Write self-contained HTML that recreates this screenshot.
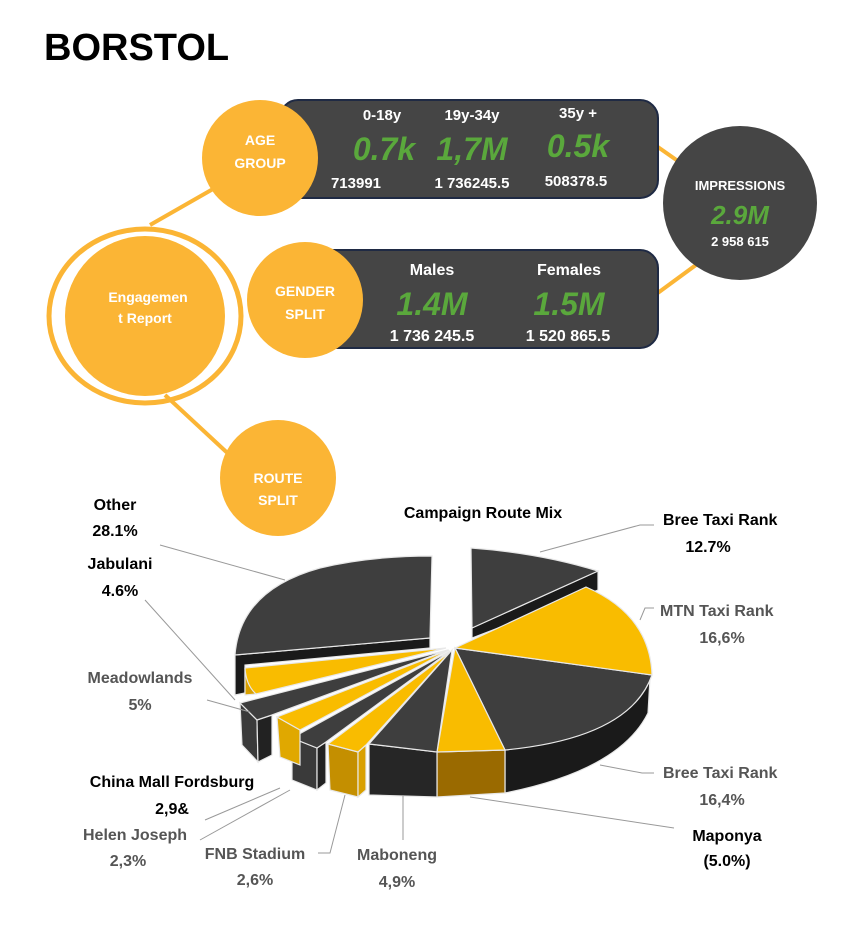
<!DOCTYPE html>
<html><head><style>
body{margin:0;background:#fff;}
svg{display:block;font-family:"Liberation Sans",sans-serif;font-weight:bold;}
</style></head><body>
<svg width="866" height="944" viewBox="0 0 866 944">
<text x="44" y="60" font-size="38" fill="#000">BORSTOL</text>
<!-- connectors -->
<g stroke="#fbb535" stroke-width="4" fill="none">
<line x1="150" y1="225" x2="220" y2="185"/>
<line x1="165" y1="395" x2="235" y2="460"/>
<line x1="655" y1="145" x2="705" y2="180"/>
<line x1="655" y1="295" x2="700" y2="262"/>
</g>
<!-- boxes -->
<rect x="280" y="100" width="378" height="98" rx="18" fill="#454545" stroke="#1f2a44" stroke-width="2"/>
<rect x="300" y="250" width="358" height="98" rx="18" fill="#454545" stroke="#1f2a44" stroke-width="2"/>
<circle cx="260" cy="158" r="58" fill="#fbb535"/>
<circle cx="305" cy="300" r="58" fill="#fbb535"/>
<circle cx="740" cy="203" r="77" fill="#454545"/>
<ellipse cx="145" cy="316" rx="96" ry="87" fill="none" stroke="#fbb535" stroke-width="5"/>
<circle cx="145" cy="316" r="80" fill="#fbb535"/>
<circle cx="278" cy="478" r="58" fill="#fbb535"/>
<g fill="#fff" font-size="14" text-anchor="middle">
<text x="260" y="145">AGE</text><text x="260" y="168">GROUP</text>
<text x="305" y="296">GENDER</text><text x="305" y="319">SPLIT</text>
<text x="148" y="302">Engagemen</text><text x="145" y="323">t Report</text>
<text x="278" y="483">ROUTE</text><text x="278" y="505">SPLIT</text>
<text x="740" y="190" font-size="13">IMPRESSIONS</text>
<text x="740" y="246" font-size="13">2 958 615</text>
<text x="382" y="120" font-size="15">0-18y</text>
<text x="472" y="120" font-size="15">19y-34y</text>
<text x="578" y="118" font-size="15">35y +</text>
<text x="356" y="188" font-size="15">713991</text>
<text x="472" y="188" font-size="15">1 736245.5</text>
<text x="576" y="186" font-size="15">508378.5</text>
<text x="432" y="275" font-size="16">Males</text>
<text x="569" y="275" font-size="16">Females</text>
<text x="432" y="341" font-size="16">1 736 245.5</text>
<text x="568" y="341" font-size="16">1 520 865.5</text>
</g>
<g fill="#5aa83c" font-size="32" font-style="italic" text-anchor="middle">
<text x="384" y="160">0.7k</text>
<text x="472" y="160">1,7M</text>
<text x="578" y="157">0.5k</text>
<text x="740" y="224" font-size="26">2.9M</text>
<text x="432" y="315">1.4M</text>
<text x="569" y="315">1.5M</text>
</g>
<!-- pie -->
<g stroke="#e8e8e8" stroke-width="1.2">
<!-- Other -->
<path d="M235,655 L235,695 L245,693 L245,665 L430,648 L430,638 Z" fill="#1a1a1a"/>
<path d="M235,655 Q240,590 320,568 Q370,556 432,556 L430,638 Z" fill="#3e3e3e"/>
<!-- Bree 12.7 -->
<path d="M472,628 L598,571 L598,590 L472,638 Z" fill="#1a1a1a"/>
<path d="M471,548 Q540,553 598,571 L472,628 Z" fill="#3e3e3e"/>
<!-- big Bree 16.4 side -->
<path d="M650,678 L648,713 Q620,770 505,793 L505,750 Q620,735 650,678 Z" fill="#1a1a1a"/>
<path d="M455,648 L652,675 Q630,738 505,750 Z" fill="#3e3e3e"/>
<!-- MTN -->
<path d="M455,648 L586,587 Q650,615 652,675 Z" fill="#f9bc00"/>
<!-- Maponya -->
<path d="M437,752 L505,750 L505,793 L437,797 Z" fill="#9a6a00"/>
<path d="M455,648 L505,750 L437,752 Z" fill="#f9bc00"/>
<!-- Maboneng -->
<path d="M369,744 L437,752 L437,797 L369,795 Z" fill="#262626"/>
<path d="M452,650 L437,752 L369,744 Z" fill="#3e3e3e"/>
<!-- FNB -->
<path d="M328,744 L358,752 L358,797 L330,790 Z" fill="#c48f00"/>
<path d="M358,752 L366,745 L366,790 L358,797 Z" fill="#d9a000"/>
<path d="M450,652 L328,744 L358,752 L366,745 Z" fill="#f9bc00"/>
<!-- China Mall -->
<path d="M292,738 L317,748 L317,790 L292,780 Z" fill="#3a3a3a"/>
<path d="M317,748 L326,742 L326,783 L317,790 Z" fill="#222"/>
<path d="M450,651 L292,738 L317,748 L326,742 Z" fill="#3e3e3e"/>
<!-- Helen -->
<path d="M277,717 L300,730 L300,765 L280,757 Z" fill="#e0a800"/>
<path d="M449,650 L277,717 L300,730 Z" fill="#f9bc00"/>
<!-- Meadowlands -->
<path d="M240,703 L257,720 L258,762 L242,745 Z" fill="#3a3a3a"/>
<path d="M257,720 L272,715 L272,755 L258,762 Z" fill="#222"/>
<path d="M448,650 L240,703 L257,720 L272,715 Z" fill="#3e3e3e"/>
<!-- Jabulani -->
<path d="M245,668 L245,695 L256,694 Z" fill="#d9a000"/>
<path d="M446,648 L245,668 Q246,685 256,694 Z" fill="#f9bc00"/>
</g>
<!-- leader lines -->
<g stroke="#999" stroke-width="1" fill="none">
<polyline points="654,525 640,525 540,552"/>
<polyline points="654,608 645,608 640,620"/>
<polyline points="654,773 642,773 600,765"/>
<polyline points="674,828 470,797"/>
<polyline points="403,840 403,795"/>
<polyline points="318,853 330,853 345,795"/>
<polyline points="200,840 290,790"/>
<polyline points="205,820 280,788"/>
<polyline points="160,545 285,580"/>
<polyline points="145,600 235,700"/>
<polyline points="207,700 250,712"/>
</g>
<text x="483" y="518" font-size="16" text-anchor="middle">Campaign Route Mix</text>
<g font-size="16">
<text x="663" y="525" fill="#000">Bree Taxi Rank</text>
<text x="708" y="552" fill="#000" text-anchor="middle">12.7%</text>
<text x="660" y="616" fill="#555">MTN Taxi Rank</text>
<text x="722" y="643" fill="#555" text-anchor="middle">16,6%</text>
<text x="663" y="778" fill="#555">Bree Taxi Rank</text>
<text x="722" y="805" fill="#555" text-anchor="middle">16,4%</text>
<text x="727" y="841" fill="#000" text-anchor="middle">Maponya</text>
<text x="727" y="866" fill="#000" text-anchor="middle">(5.0%)</text>
<text x="397" y="860" fill="#555" text-anchor="middle">Maboneng</text>
<text x="397" y="887" fill="#555" text-anchor="middle">4,9%</text>
<text x="255" y="859" fill="#555" text-anchor="middle">FNB Stadium</text>
<text x="255" y="885" fill="#555" text-anchor="middle">2,6%</text>
<text x="135" y="840" fill="#555" text-anchor="middle">Helen Joseph</text>
<text x="128" y="866" fill="#555" text-anchor="middle">2,3%</text>
<text x="172" y="787" fill="#000" text-anchor="middle">China Mall Fordsburg</text>
<text x="172" y="814" fill="#000" text-anchor="middle">2,9&amp;</text>
<text x="140" y="683" fill="#555" text-anchor="middle">Meadowlands</text>
<text x="140" y="710" fill="#555" text-anchor="middle">5%</text>
<text x="120" y="569" fill="#000" text-anchor="middle">Jabulani</text>
<text x="120" y="596" fill="#000" text-anchor="middle">4.6%</text>
<text x="115" y="510" fill="#000" text-anchor="middle">Other</text>
<text x="115" y="536" fill="#000" text-anchor="middle">28.1%</text>
</g>
</svg>
</body></html>
